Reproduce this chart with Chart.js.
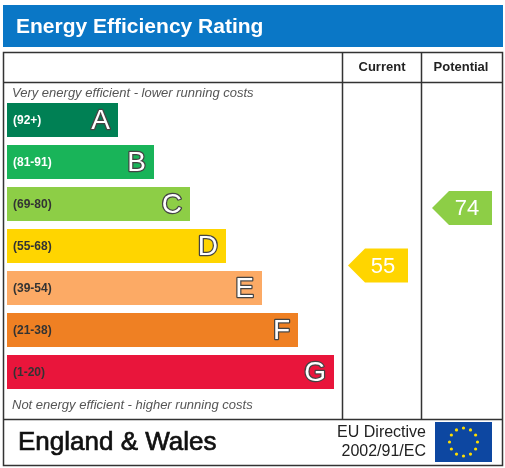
<!DOCTYPE html><html><head><meta charset="utf-8">
<script src="https://cdn.jsdelivr.net/npm/chart.js@4/dist/chart.umd.min.js"></script>
<style>html,body{margin:0;padding:0;background:#fff}#w{width:505px;height:468px}</style></head>
<body><div id="w"><canvas id="c"></canvas></div>
<script>
const bands = ['A','B','C','D','E','F','G'];
const ranges = ['(92+)','(81-91)','(69-80)','(55-68)','(39-54)','(21-38)','(1-20)'];
const rangeLo = [92,81,69,55,39,21,1];
const rangeHi = [100,91,80,68,54,38,20];
const barLengths = [111,147,183,219,255,291,327];
const bandColors = ['#008054','#19b459','#8dce46','#ffd500','#fcaa65','#ef8023','#e9153b'];
const currentRating = 55;
const potentialRating = 74;
const title = 'Energy Efficiency Rating';

function bandOf(v){for(let i=0;i<bands.length;i++) if(v>=rangeLo[i]) return i; return 6;}
function outlineText(ctx,t,x,y){ctx.lineWidth=2.5;ctx.lineJoin='round';ctx.strokeStyle='#444';ctx.strokeText(t,x,y);ctx.fillStyle='#fff';ctx.fillText(t,x,y);}

const deco = {
  id:'deco',
  beforeDraw(ch){
    const c=ch.ctx;c.save();
    c.fillStyle='#0a77c6';c.fillRect(3,5,500,42);
    c.fillStyle='#fff';c.font='bold 21px "Liberation Sans", Arial';c.textBaseline='middle';
    c.fillText(title,16,27);
    c.strokeStyle='#333';c.lineWidth=1.5;
    c.strokeRect(3.5,52.5,499,413);
    c.beginPath();c.moveTo(3,82.5);c.lineTo(503,82.5);
    c.moveTo(3,419.5);c.lineTo(503,419.5);
    c.moveTo(342.5,52);c.lineTo(342.5,419);
    c.moveTo(421.5,52);c.lineTo(421.5,419);c.stroke();
    c.fillStyle='#222';c.font='bold 13px "Liberation Sans", Arial';c.textAlign='center';
    c.fillText('Current',382,67);c.fillText('Potential',461,67);
    c.textAlign='left';c.fillStyle='#555';c.font='italic 13px "Liberation Sans", Arial';
    c.fillText('Very energy efficient - lower running costs',12,93);
    c.fillText('Not energy efficient - higher running costs',12,405);
    c.fillStyle='#111';c.font='26px "Liberation Sans", Arial';
    c.fillText('England & Wales',18,443);
    c.lineWidth=0.7;c.strokeStyle='#111';c.strokeText('England & Wales',18,443);
    c.font='16px "Liberation Sans", Arial';c.textAlign='right';c.fillStyle='#222';
    c.fillText('EU Directive',426,433);c.fillText('2002/91/EC',426,452);
    c.fillStyle='#0d47a1';c.fillRect(435,422,57,40);
    c.fillStyle='#ffdd00';
    for(let k=0;k<12;k++){const a=k*Math.PI/6;c.beginPath();c.arc(463.5+14*Math.cos(a),442+14*Math.sin(a),1.6,0,7);c.fill();}
    c.restore();
  },
  afterDatasetsDraw(ch){
    const c=ch.ctx;const meta=ch.getDatasetMeta(0);c.save();c.textBaseline='middle';
    meta.data.forEach((b,i)=>{
      c.textAlign='left';c.font='bold 12px "Liberation Sans", Arial';
      c.fillStyle=i<2?'#fff':'#333';
      c.fillText(ranges[i],13,b.y+1);
      c.textAlign='right';c.font='28px "Liberation Sans", Arial';
      outlineText(c,bands[i],b.x-8,b.y+1);
    });
    function arrow(v,x0,x1){
      const i=bandOf(v);const b=meta.data[i];const h=34;
      const top=b.y-h/2;const yc=top+(rangeHi[i]-v)/(rangeHi[i]-rangeLo[i]+1)*h+ (i===3?5:4);
      c.fillStyle=bandColors[i];c.beginPath();
      c.moveTo(x0,yc);c.lineTo(x0+17,yc-h/2);c.lineTo(x1,yc-h/2);c.lineTo(x1,yc+h/2);c.lineTo(x0+17,yc+h/2);c.closePath();c.fill();
      c.fillStyle='#fff';c.textAlign='center';c.font='22px "Liberation Sans", Arial';
      c.fillText(String(v),x0+35,yc+1);
    }
    arrow(currentRating,348,408);
    arrow(potentialRating,432,492);
    c.restore();
  }
};

new Chart(document.getElementById('c'),{
  type:'bar',
  data:{labels:bands,datasets:[{data:barLengths,backgroundColor:bandColors,barPercentage:34/42,categoryPercentage:1}]},
  options:{indexAxis:'y',responsive:true,maintainAspectRatio:false,animation:false,
    layout:{padding:{left:7,right:162,top:99,bottom:75}},
    plugins:{legend:{display:false},tooltip:{enabled:false}},
    scales:{x:{display:false,min:0,max:336},y:{display:false}}},
  plugins:[deco]
});
</script></body></html>
